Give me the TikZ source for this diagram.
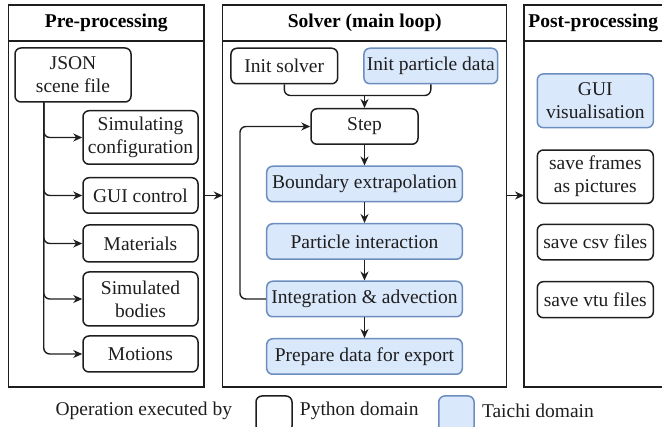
\documentclass[tikz,border=0pt]{standalone}
\usepackage{fontspec}
\setmainfont{Liberation Serif}
\usepackage{tikz}
\usepackage{xcolor}
\usetikzlibrary{shapes.geometric, arrows.meta, positioning}
\definecolor{taichifill}{HTML}{DAE8FC}
\definecolor{taichiline}{HTML}{6C8EBF}
\definecolor{inkgray}{HTML}{1E1E1E}
\tikzstyle{header} = [rectangle, draw=inkgray, line width=1.3pt, minimum height=36pt, outer sep=0pt, font=\fontsize{19.5}{23}\selectfont\bfseries]
\tikzstyle{panel} = [rectangle, draw=inkgray, line width=1.3pt, minimum height=346pt, outer sep=0pt]
\tikzstyle{pybox} = [rectangle, rounded corners=6pt, draw=inkgray, line width=1.5pt, minimum height=35.5pt, inner sep=1pt, align=center, text=inkgray]
\tikzstyle{taichibox} = [pybox, draw=taichiline, fill=taichifill]
\tikzstyle{legend} = [inner sep=1pt, text=inkgray]
\tikzstyle{arrow} = [line width=1.4pt,->,>={Stealth[length=9pt,width=8pt]}, draw=inkgray]
\tikzstyle{line} = [line width=1.4pt, draw=inkgray, rounded corners=6pt]

\begin{document}
\begin{tikzpicture}[x=1pt, y=-1pt, node distance=57.5pt, every node/.style={font=\fontsize{19.5}{23}\selectfont}]

        \clip (0,0) rectangle (662,427);

        % Panels
        \node (prehead) [header, minimum width=195.5pt] at (106.25,23) {Pre-processing};
        \node (prebody) [panel, minimum width=195.5pt, below=0pt of prehead] {};
        \node (midhead) [header, minimum width=284pt] at (364.7,23) {Solver (main loop)};
        \node (midbody) [panel, minimum width=284pt, below=0pt of midhead] {};
        \node (posthead) [header, minimum width=138.5pt] at (593.25,23) {Post-processing};
        \node (postbody) [panel, minimum width=138.5pt, below=0pt of posthead] {};

        % Pre-processing
        \node (json) [pybox, minimum width=116pt, minimum height=54pt] at (73,75) {JSON\\scene file};
        \node (sim) [pybox, minimum width=115pt, minimum height=53.5pt, below of=json, xshift=67.5pt, yshift=-5pt] {Simulating\\configuration};
        \node (gui) [pybox, minimum width=115pt, below of=sim, yshift=-0.5pt] {GUI control};
        \node (mat) [pybox, minimum width=115pt, minimum height=37pt, below of=gui, yshift=9.5pt] {Materials};
        \node (bod) [pybox, minimum width=115pt, minimum height=54pt, below of=mat, yshift=2pt] {Simulated\\bodies};
        \node (mot) [pybox, minimum width=115pt, minimum height=36pt, below of=bod, yshift=2.5pt] {Motions};
        \coordinate (trunk) at ([xshift=29.5pt]json.south west);

        % Solver
        \node (step) [pybox, minimum width=107pt] at (364.5,126.5) {Step};
        \node (initsolver) [pybox, minimum width=106.7pt, above of=step, xshift=-80.2pt, yshift=3pt] {Init solver};
        \node (initdata) [taichibox, minimum width=133.7pt, above of=step, xshift=66.3pt, yshift=3pt] {Init particle data};
        \coordinate (merge) at ([yshift=12.5pt]step.north);
        \node (boundary) [taichibox, minimum width=195.6pt, below of=step] {Boundary extrapolation};
        \node (particle) [taichibox, minimum width=195.6pt, below of=boundary] {Particle interaction};
        \node (integ) [taichibox, minimum width=195.6pt, below of=particle] {Integration \& advection};
        \node (prepare) [taichibox, minimum width=195.6pt, below of=integ] {Prepare data for export};

        % Post-processing
        \node (guivis) [taichibox, minimum width=116pt, minimum height=53.7pt] at (595.3,100.8) {GUI\\visualisation};
        \node (frames) [pybox, minimum width=116pt, minimum height=53.3pt, below of=guivis, yshift=-18.4pt] {save frames\\as pictures};
        \node (csv) [pybox, minimum width=116pt, below of=frames, yshift=-8pt] {save csv files};
        \node (vtu) [pybox, minimum width=116pt, minimum height=36pt, below of=csv] {save vtu files};

        % Legend
        \node (legpy) [pybox, minimum width=36pt, minimum height=36pt] at (274,414) {};
        \node (legtaichi) [taichibox, minimum width=35.3pt, minimum height=36pt] at (456.4,414) {};
        \node (legtext) [legend, left=22pt of legpy, yshift=3pt] {Operation executed by};
        \node (pytext) [legend, right=6pt of legpy, yshift=3pt] {Python domain};
        \node (taichitext) [legend, right=6pt of legtaichi, yshift=3pt] {Taichi domain};

        % Arrows
        \draw [arrow, rounded corners=6pt] (json.south -| trunk) |- (sim.west);
        \draw [arrow, rounded corners=6pt] (json.south -| trunk) |- (gui.west);
        \draw [arrow, rounded corners=6pt] (json.south -| trunk) |- (mat.west);
        \draw [arrow, rounded corners=6pt] (json.south -| trunk) |- (bod.west);
        \draw [arrow, rounded corners=6pt] (json.south -| trunk) |- (mot.west);
        \draw [arrow] (prebody.east |- gui) -- (midbody.west |- gui);
        \draw [line] (initsolver.south) |- (merge);
        \draw [line] (initdata.south) |- (merge);
        \draw [arrow] (merge) -- (step);
        \draw [arrow] (step) -- (boundary);
        \draw [arrow] (boundary) -- (particle);
        \draw [arrow] (particle) -- (integ);
        \draw [arrow] (integ) -- (prepare);
        \draw [arrow, rounded corners=6pt] (integ.west) -- ++(-26,0) |- (step.west);
        \draw [arrow] (midbody.east |- gui) -- (postbody.west |- gui);

\end{tikzpicture}
\end{document}
